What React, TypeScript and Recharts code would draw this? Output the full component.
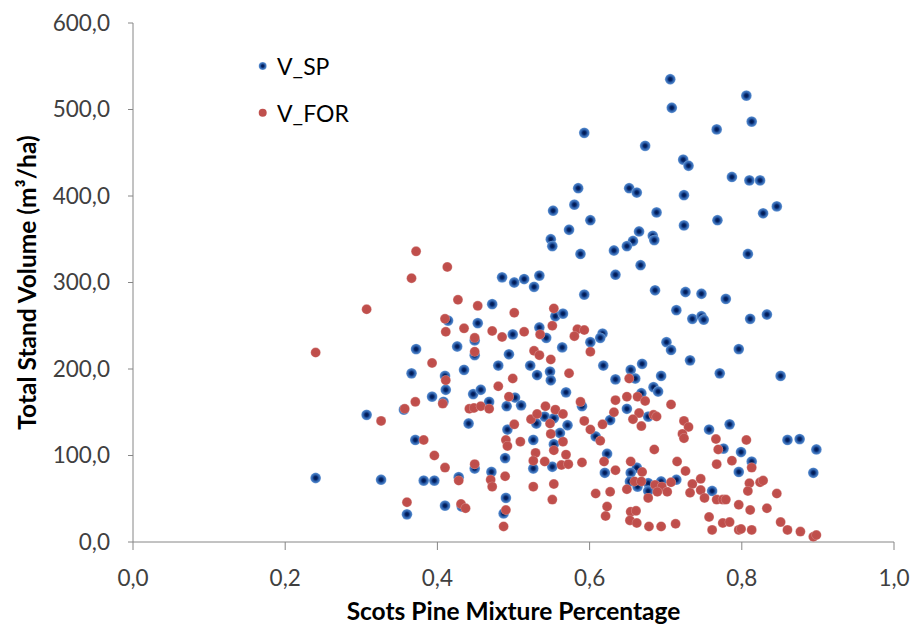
import React from 'react';
import { ScatterChart, Scatter, XAxis, YAxis, Legend, Label } from 'recharts';

// [mixture, volume] pairs
const vSP: [number, number][] = [
  [0.307, 147], [0.240, 74], [0.326, 72], [0.552, 383], [0.549, 350], [0.551, 342], [0.485, 306], [0.501, 300],
  [0.514, 304], [0.534, 308], [0.527, 295], [0.472, 275], [0.555, 261], [0.414, 256], [0.453, 253], [0.499, 240],
  [0.534, 248], [0.543, 236], [0.449, 233], [0.372, 223], [0.426, 226], [0.449, 216], [0.494, 217], [0.564, 225],
  [0.366, 195], [0.435, 199], [0.480, 204], [0.522, 204], [0.531, 193], [0.548, 197], [0.549, 187], [0.410, 192],
  [0.411, 176], [0.393, 168], [0.356, 153], [0.408, 162], [0.447, 171], [0.457, 176], [0.468, 162], [0.502, 167],
  [0.510, 158], [0.491, 157], [0.441, 137], [0.530, 137], [0.541, 145], [0.553, 143], [0.492, 130], [0.561, 126],
  [0.371, 118], [0.526, 118], [0.553, 113], [0.526, 85], [0.551, 87], [0.489, 97], [0.449, 85], [0.471, 81],
  [0.382, 71], [0.396, 71], [0.428, 75], [0.360, 32], [0.410, 42], [0.432, 41], [0.490, 51], [0.487, 33],
  [0.706, 535], [0.708, 502], [0.593, 473], [0.767, 477], [0.673, 458], [0.723, 442], [0.730, 435], [0.585, 409],
  [0.652, 409], [0.662, 404], [0.724, 401], [0.580, 390], [0.601, 372], [0.688, 381], [0.573, 361], [0.724, 366],
  [0.768, 372], [0.665, 359], [0.683, 354], [0.685, 349], [0.657, 348], [0.649, 342], [0.632, 337], [0.588, 333],
  [0.667, 320], [0.634, 309], [0.686, 291], [0.726, 289], [0.747, 287], [0.593, 286],
  [0.565, 264], [0.714, 268], [0.735, 258], [0.747, 261], [0.750, 257], [0.617, 241], [0.614, 236], [0.601, 231],
  [0.701, 231], [0.707, 222], [0.732, 210], [0.618, 204], [0.669, 206], [0.654, 199], [0.660, 189], [0.694, 192],
  [0.634, 188], [0.771, 195], [0.684, 179], [0.690, 174], [0.569, 173], [0.668, 172], [0.590, 157], [0.649, 154],
  [0.677, 145], [0.627, 141], [0.571, 135], [0.757, 130], [0.608, 122], [0.623, 102], [0.662, 86], [0.620, 80],
  [0.654, 80], [0.653, 70], [0.663, 64], [0.677, 68], [0.694, 70], [0.714, 72], [0.677, 59], [0.761, 59],
  [0.806, 516], [0.813, 486], [0.787, 422], [0.810, 418], [0.824, 418], [0.846, 388], [0.828, 380], [0.808, 333],
  [0.779, 281], [0.811, 258], [0.833, 263], [0.796, 223], [0.851, 192], [0.784, 136], [0.860, 118], [0.876, 119],
  [0.898, 107], [0.894, 80], [0.776, 108], [0.799, 104], [0.813, 93], [0.796, 81],
];

const vFOR: [number, number][] = [
  [0.307, 269], [0.240, 219], [0.326, 140], [0.372, 336], [0.413, 318], [0.366, 305], [0.427, 280], [0.453, 273],
  [0.501, 265], [0.553, 270], [0.410, 258], [0.411, 243], [0.435, 247], [0.472, 244], [0.485, 237], [0.514, 243],
  [0.535, 240], [0.551, 250], [0.449, 236], [0.449, 220], [0.527, 221], [0.534, 216], [0.549, 211], [0.393, 207],
  [0.411, 187], [0.499, 189], [0.480, 180], [0.371, 162], [0.357, 154], [0.407, 160], [0.442, 154], [0.448, 155],
  [0.457, 157], [0.468, 154], [0.494, 168], [0.542, 157], [0.555, 153], [0.523, 142], [0.531, 148], [0.548, 137],
  [0.501, 136], [0.549, 125], [0.382, 118], [0.490, 118], [0.492, 111], [0.509, 116], [0.553, 106], [0.396, 100],
  [0.529, 103], [0.526, 94], [0.541, 93], [0.410, 86], [0.449, 90], [0.489, 76], [0.428, 71], [0.470, 72],
  [0.472, 64], [0.526, 64], [0.553, 67], [0.551, 49], [0.360, 46], [0.431, 44], [0.437, 39], [0.490, 37], [0.487, 18],
  [0.584, 246], [0.593, 245], [0.580, 238], [0.601, 220], [0.652, 189], [0.573, 195], [0.649, 168], [0.663, 168],
  [0.673, 163], [0.634, 164], [0.588, 162], [0.707, 159], [0.632, 150], [0.665, 149], [0.565, 148], [0.684, 147],
  [0.688, 145], [0.657, 142], [0.593, 140], [0.617, 136], [0.668, 134], [0.724, 140], [0.730, 133], [0.601, 130],
  [0.722, 125], [0.724, 120], [0.614, 117], [0.565, 116], [0.766, 119], [0.685, 107], [0.569, 101], [0.769, 107],
  [0.715, 93], [0.590, 92], [0.619, 93], [0.654, 93], [0.563, 89], [0.572, 90], [0.634, 83], [0.669, 81],
  [0.726, 82], [0.767, 90], [0.659, 70], [0.668, 70], [0.649, 61], [0.686, 66], [0.695, 64], [0.702, 58],
  [0.689, 58], [0.707, 69], [0.677, 51], [0.608, 56], [0.627, 58], [0.735, 67], [0.732, 57], [0.746, 73],
  [0.746, 60], [0.751, 51], [0.767, 49], [0.623, 41], [0.621, 30], [0.654, 35], [0.661, 36], [0.653, 25],
  [0.662, 22], [0.678, 18], [0.694, 18], [0.713, 21], [0.757, 29], [0.761, 14],
  [0.806, 118], [0.787, 94], [0.813, 86], [0.810, 68], [0.808, 59], [0.824, 69], [0.828, 71], [0.846, 56],
  [0.775, 49], [0.779, 49], [0.796, 43], [0.811, 37], [0.833, 39], [0.775, 22], [0.784, 23], [0.796, 14],
  [0.799, 15], [0.813, 14], [0.851, 23], [0.860, 14], [0.877, 12], [0.894, 6], [0.898, 8],
];

const xTicks = [0, 0.2, 0.4, 0.6, 0.8, 1.0];
const yTicks = [0, 100, 200, 300, 400, 500, 600];
const seriesNames = ['V_SP', 'V_FOR'];

const RED = '#C0504D';
const AXIS = '#868686';
const FONT = 'Lato, "Open Sans", sans-serif';

const fmt = (v: number) => v.toFixed(1).replace('.', ',');

const toPoints = (list: [number, number][]) => list.map(([x, y]) => ({ x, y }));

const BlueDot = (props: any) => {
  const { cx, cy } = props;
  if (cx == null || cy == null) return null;
  return <circle cx={cx} cy={cy} r={5.4} fill="url(#spGrad)" />;
};

const RedDot = (props: any) => {
  const { cx, cy } = props;
  if (cx == null || cy == null) return null;
  return <circle cx={cx} cy={cy} r={5} fill="url(#forGrad)" />;
};

const LegendBox = () => (
  <svg width={140} height={95} style={{ display: 'block', overflow: 'visible' }}>
    <circle cx={14.7} cy={18} r={4} fill="url(#spGrad)" />
    <text x={29} y={26.5} fontFamily={FONT} fontSize={23} fill="#000">{seriesNames[0]}</text>
    <circle cx={14.7} cy={64.7} r={4} fill={RED} />
    <text x={29} y={73.5} fontFamily={FONT} fontSize={23} fill="#000">{seriesNames[1]}</text>
  </svg>
);

const pageCss =
  'html { overflow: hidden; } body, #root { overflow: visible !important; } ' +
  '.recharts-wrapper, .recharts-surface { overflow: visible !important; }';

export default function App() {
  return (
    <div style={{ width: 897, height: 613, background: '#fff', overflow: 'visible' }}>
      <style>{pageCss}</style>
      <ScatterChart width={905} height={621} margin={{ top: 15, right: 19, left: 0, bottom: 0 }}>
        <defs>
          <radialGradient id="spGrad" cx="50%" cy="50%" r="50%">
            <stop offset="0%" stopColor="#001848" />
            <stop offset="32%" stopColor="#06266a" />
            <stop offset="58%" stopColor="#2a5da8" />
            <stop offset="85%" stopColor="#4a80c6" />
            <stop offset="100%" stopColor="#8db0de" />
          </radialGradient>
          <radialGradient id="forGrad" cx="50%" cy="50%" r="50%">
            <stop offset="0%" stopColor="#bf4c49" />
            <stop offset="80%" stopColor="#c0504d" />
            <stop offset="100%" stopColor="#d58987" />
          </radialGradient>
        </defs>
        <XAxis
          type="number"
          dataKey="x"
          domain={[0, 1]}
          ticks={xTicks}
          tickFormatter={fmt}
          height={87}
          stroke={AXIS}
          tickSize={8}
          tickMargin={20}
          tick={{ fill: '#404040', fontSize: 22.5, fontFamily: FONT }}
          tickLine={{ stroke: AXIS }}
          axisLine={{ stroke: AXIS }}
        >
          <Label
            content={(p: any) => {
              const vb = p.viewBox;
              return (
                <text x={vb.x + vb.width / 2} y={612} textAnchor="middle" fontFamily={FONT} fontWeight={700} fontSize={24.5} fill="#000">
                  Scots Pine Mixture Percentage
                </text>
              );
            }}
          />
        </XAxis>
        <YAxis
          type="number"
          dataKey="y"
          domain={[0, 600]}
          ticks={yTicks}
          tickFormatter={fmt}
          width={125}
          stroke={AXIS}
          tickSize={5}
          tickMargin={18}
          tick={{ fill: '#404040', fontSize: 22.5, fontFamily: FONT }}
          tickLine={{ stroke: AXIS }}
          axisLine={{ stroke: AXIS }}
        >
          <Label
            content={(p: any) => {
              const vb = p.viewBox;
              const cx = 18;
              const cy = vb.y + vb.height / 2;
              return (
                <text x={cx} y={cy} transform={`rotate(-90 ${cx} ${cy})`} textAnchor="middle" dominantBaseline="central" fontFamily={FONT} fontWeight={700} fontSize={24.5} fill="#000">
                  Total Stand Volume (m³/ha)
                </text>
              );
            }}
          />
        </YAxis>
        <Legend
          layout="horizontal"
          verticalAlign="middle"
          align="center"
          content={() => <LegendBox />}
          wrapperStyle={{ top: 40, left: 240, width: 140 }}
        />
        <Scatter name={seriesNames[0]} data={toPoints(vSP)} shape={BlueDot} isAnimationActive={false} />
        <Scatter name={seriesNames[1]} data={toPoints(vFOR)} shape={RedDot} isAnimationActive={false} />
      </ScatterChart>
    </div>
  );
}
